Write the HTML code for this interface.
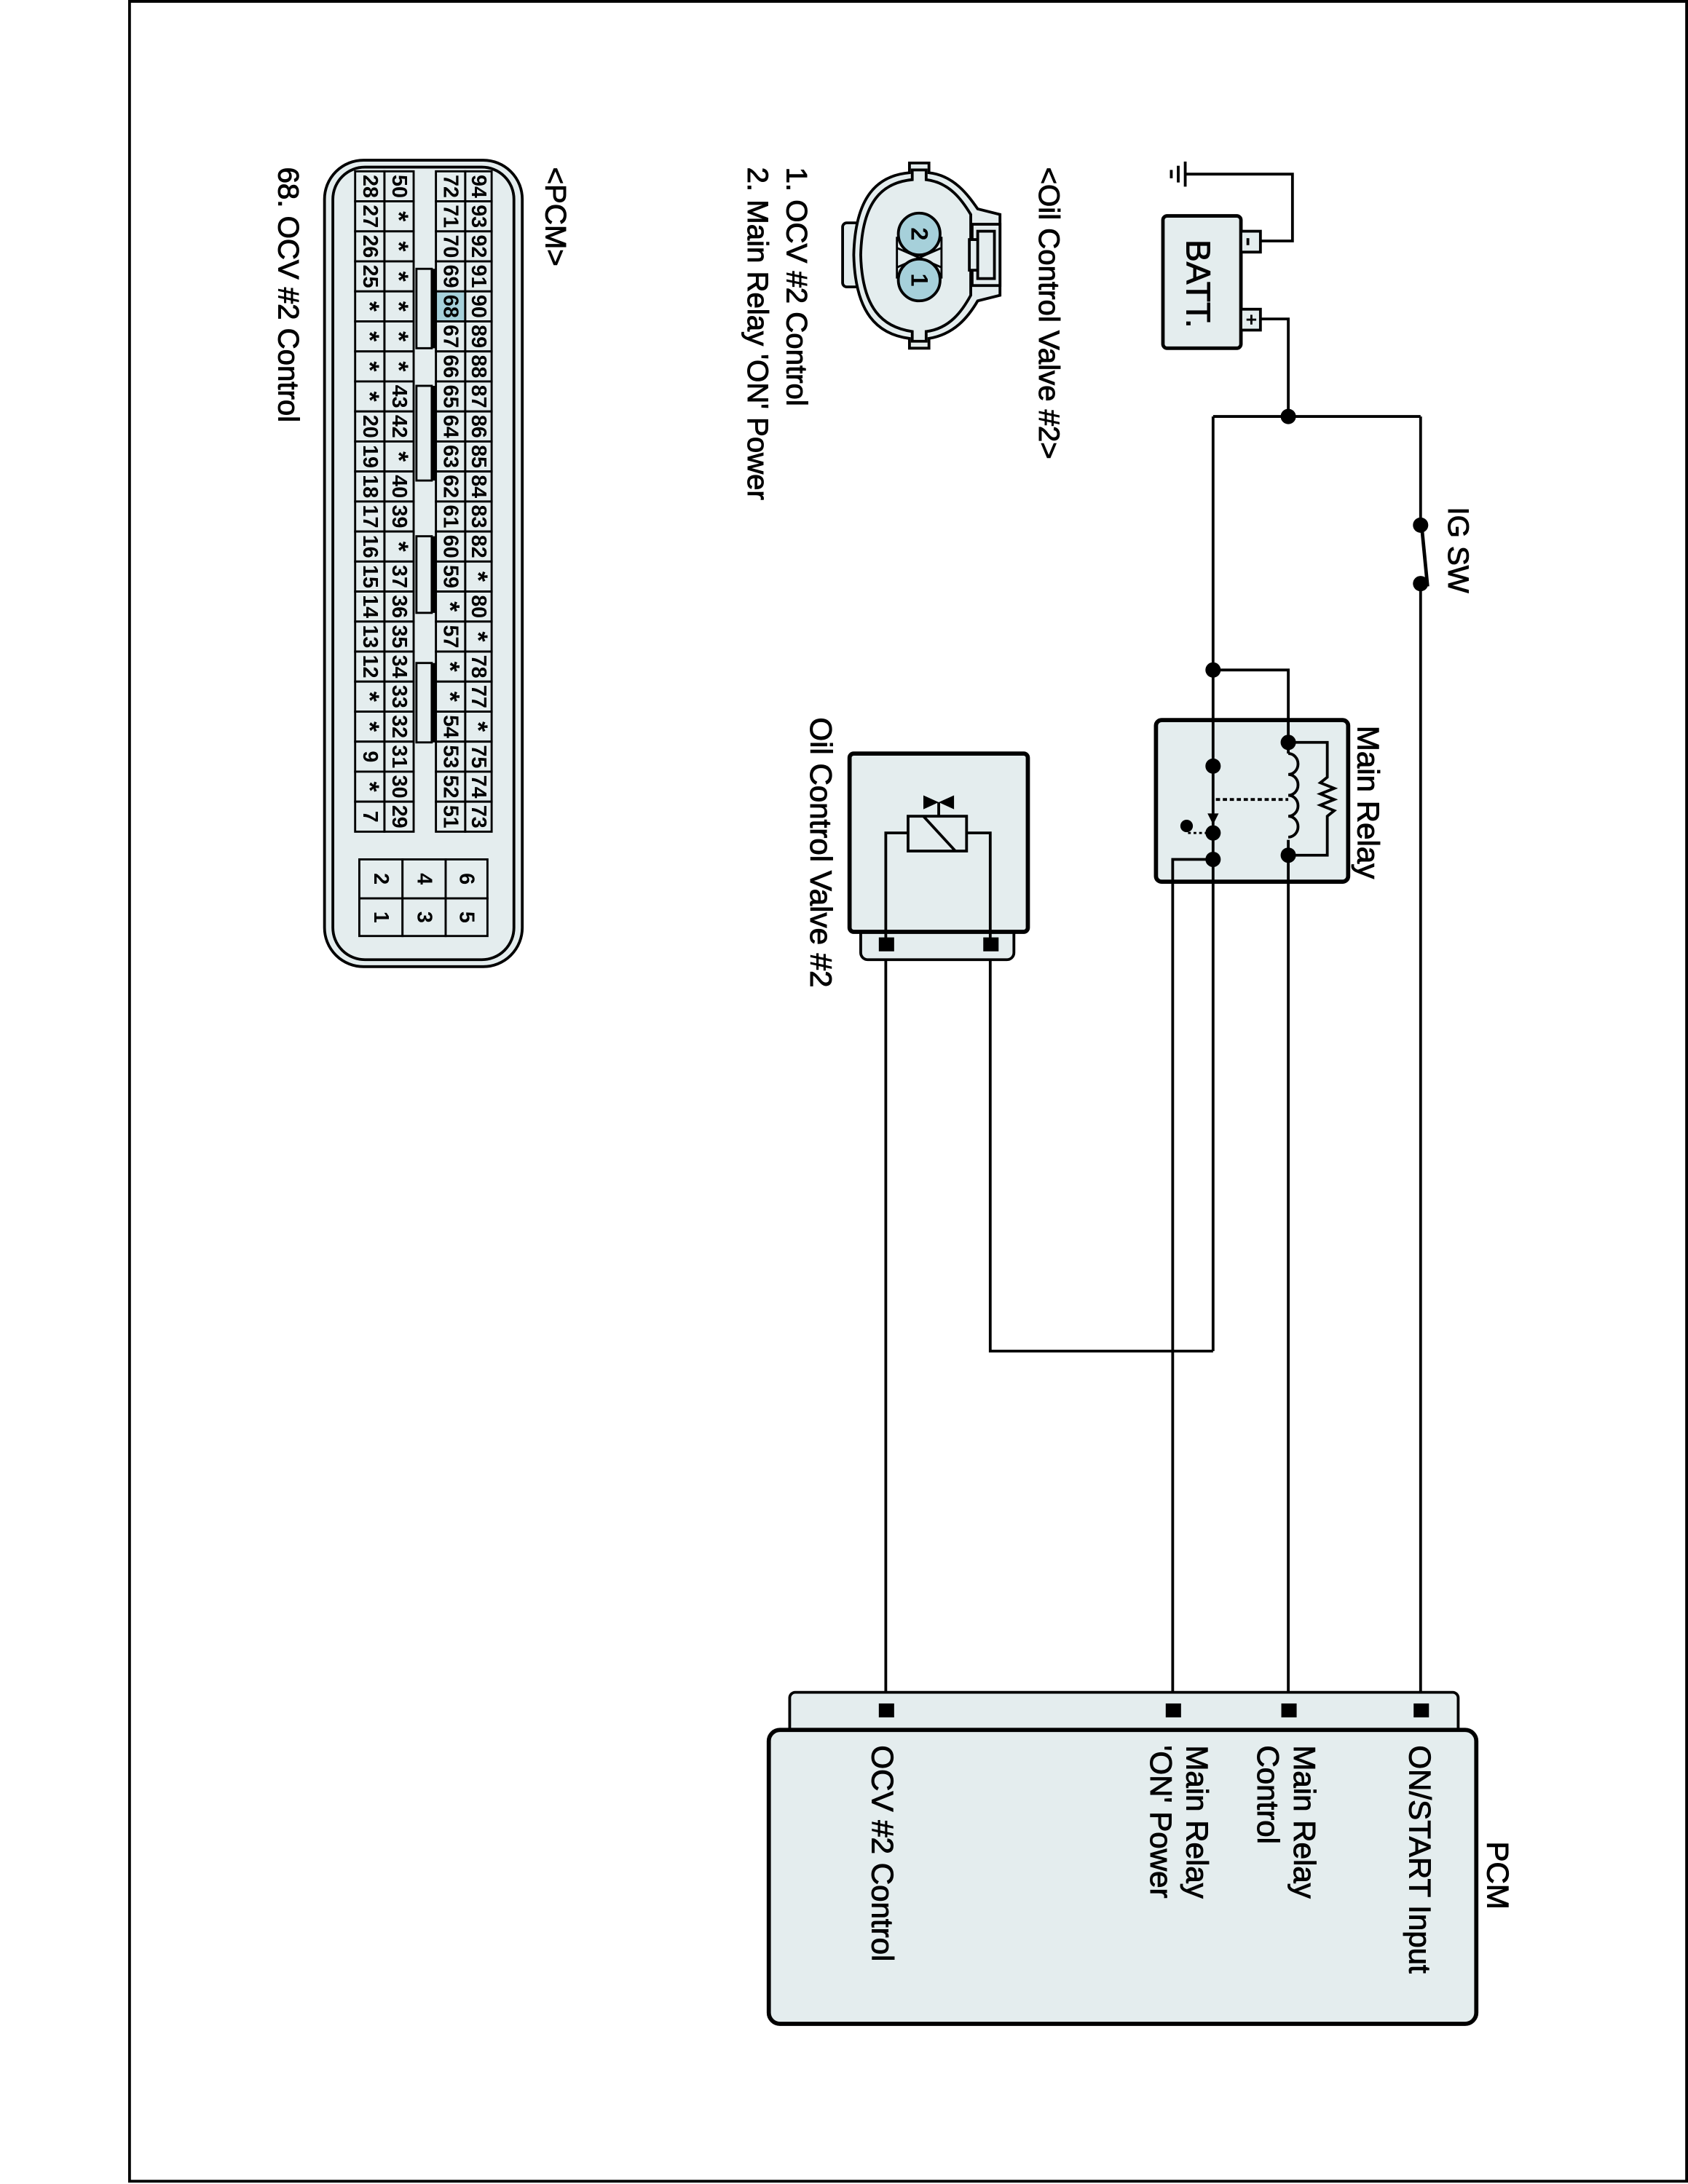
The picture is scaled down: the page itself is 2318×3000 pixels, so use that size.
<!DOCTYPE html>
<html><head><meta charset="utf-8"><style>
html,body{margin:0;padding:0;background:#fff;}
svg{display:block;}
text{font-family:"Liberation Sans",Arial,sans-serif;fill:#000;}
.t{stroke:#000;stroke-width:0.5;}
</style></head><body>
<svg id="s" width="2318" height="3000" viewBox="0 0 1212 1568" preserveAspectRatio="none" xmlns="http://www.w3.org/2000/svg">
<rect x="93" y="1" width="1118" height="1565" fill="#fff" stroke="#000" stroke-width="2"/>

<g stroke="#000" stroke-width="2" fill="none">
<line x1="851" y1="116" x2="851" y2="134"/>
<line x1="846" y1="119" x2="846" y2="131"/>
<line x1="841" y1="122" x2="841" y2="128"/>
<polyline points="851,125 928,125 928,173 905,173"/>
<polyline points="905,229 925,229 925,299"/>
<line x1="871" y1="299" x2="1020" y2="299"/>
<line x1="1020" y1="299" x2="1020" y2="1228"/>
<line x1="871" y1="299" x2="871" y2="970"/>
<polyline points="871,970 711,970 711,681"/>
<polyline points="871,481 925,481 925,1228"/>
<line x1="842" y1="617" x2="842" y2="1228"/>
<line x1="636" y1="681" x2="636" y2="1228"/>
</g>
<rect x="835" y="155" width="56" height="95" rx="3" fill="#e4edee" stroke="#000" stroke-width="2.5"/>
<rect x="891" y="166" width="14" height="15" fill="#e4edee" stroke="#000" stroke-width="2"/>
<rect x="891" y="222" width="14" height="15" fill="#e4edee" stroke="#000" stroke-width="2"/>
<line x1="896" y1="171" x2="896" y2="176" stroke="#000" stroke-width="2"/>
<line x1="895" y1="229.5" x2="902" y2="229.5" stroke="#000" stroke-width="1.5"/>
<line x1="898.5" y1="226" x2="898.5" y2="233" stroke="#000" stroke-width="1.5"/>
<text class="t" transform="translate(852,172) rotate(90)" font-size="24">BATT.</text>

<g fill="#000">
<circle cx="925" cy="299" r="5.5"/>
<circle cx="871" cy="481" r="5.5"/>
</g>
<rect x="1014" y="380" width="12" height="36" fill="#fff"/>
<line x1="1021" y1="380" x2="1025" y2="421" stroke="#000" stroke-width="2.5"/>
<circle cx="1020" cy="377" r="5.5"/>
<circle cx="1020" cy="419" r="5.5"/>
<text class="t" transform="translate(1040,364) rotate(90)" font-size="21">IG SW</text>

<rect x="830" y="517" width="138" height="116" rx="4" fill="#e4edee" stroke="#000" stroke-width="3"/>
<g stroke="#000" stroke-width="2" fill="none">
<line x1="871" y1="517" x2="871" y2="633"/>
<line x1="925" y1="517" x2="925" y2="633"/>
<polyline points="871,617 842,617 842,633"/>
<polyline points="925,533 953,533 953,558 948,562 958,566 948,570 958,574 948,578 958,582 953,586 953,614 925,614"/>
</g>
<rect x="920" y="541" width="10" height="62" fill="#e4edee"/>
<path d="M925,541 a7,7.5 0 0 1 0,15 a7,7.5 0 0 1 0,15 a7,7.5 0 0 1 0,15 a7,7.5 0 0 1 0,15" fill="none" stroke="#000" stroke-width="2"/>
<line x1="873" y1="574" x2="925" y2="574" stroke="#000" stroke-width="2" stroke-dasharray="3,2"/>
<line x1="853" y1="598" x2="871" y2="598" stroke="#000" stroke-width="1.5" stroke-dasharray="2,2"/>
<polygon points="867,584 875,584 871,592" fill="#000"/>
<g fill="#000">
<circle cx="925" cy="533" r="5.5"/>
<circle cx="925" cy="614" r="5.5"/>
<circle cx="871" cy="550" r="5.5"/>
<circle cx="871" cy="598" r="5.5"/>
<circle cx="871" cy="617" r="5.5"/>
<circle cx="852" cy="593" r="4.5"/>
</g>
<text class="t" transform="translate(975,521) rotate(90)" font-size="22">Main Relay</text>

<rect x="618" y="664" width="110" height="25" rx="5" fill="#e4edee" stroke="#000" stroke-width="2"/>
<rect x="610" y="541" width="128" height="128" rx="3" fill="#e4edee" stroke="#000" stroke-width="3"/>
<rect x="631" y="673" width="11" height="10" fill="#000"/>
<rect x="706" y="673" width="11" height="10" fill="#000"/>
<g stroke="#000" stroke-width="2" fill="none">
<polyline points="652,598 636,598 636,681"/>
<polyline points="694,598 711,598 711,681"/>
<rect x="652" y="586" width="42" height="25"/>
<line x1="663" y1="586" x2="686" y2="611"/>
<line x1="674" y1="576" x2="674" y2="586"/>
</g>
<polygon points="663,571 674,576 685,571 685,581 674,576 663,581" fill="#000"/>
<text class="t" transform="translate(582,515) rotate(90)" font-size="22">Oil Control Valve #2</text>

<rect x="567" y="1215" width="480" height="40" rx="4" fill="#e4edee" stroke="#000" stroke-width="2"/>
<rect x="552" y="1242" width="508" height="211" rx="8" fill="#e4edee" stroke="#000" stroke-width="3"/>
<g fill="#000">
<rect x="631" y="1223" width="11" height="10"/>
<rect x="837" y="1223" width="11" height="10"/>
<rect x="920" y="1223" width="11" height="10"/>
<rect x="1015" y="1223" width="11" height="10"/>
</g>
<text class="t" transform="translate(1068,1322) rotate(90)" font-size="22">PCM</text>
<text class="t" transform="translate(1012,1253) rotate(90)" font-size="22">ON/START Input</text>
<text class="t" transform="translate(929,1253) rotate(90)" font-size="22">Main Relay</text>
<text class="t" transform="translate(903,1253) rotate(90)" font-size="22">Control</text>
<text class="t" transform="translate(852,1253) rotate(90)" font-size="22">Main Relay</text>
<text class="t" transform="translate(826,1253) rotate(90)" font-size="22">'ON' Power</text>
<text class="t" transform="translate(626,1253) rotate(90)" font-size="22">OCV #2 Control</text>

<text class="t" transform="translate(746,120) rotate(90)" font-size="21">&lt;Oil Control Valve #2&gt;</text>
<text class="t" transform="translate(565,120) rotate(90)" font-size="21">1. OCV #2 Control</text>
<text class="t" transform="translate(537,120) rotate(90)" font-size="21">2. Main Relay 'ON' Power</text>
<text class="t" transform="translate(392,120) rotate(90)" font-size="21">&lt;PCM&gt;</text>
<text class="t" transform="translate(200,120) rotate(90)" font-size="21">68. OCV #2 Control</text>

<g stroke="#000" stroke-width="2" fill="#e4edee">
<rect x="605" y="160" width="12" height="46" rx="3"/>
<path d="M653,117 L667,117 L667,124 C685,126 695,140 702,150 L718,154 L718,212 L702,216 C695,228 685,240 667,243 L667,250 L653,250 L653,243 C630,240 614,225 613,183 C614,141 630,126 653,124 Z"/>
<path d="M655,122 L665,122 L665,129 C682,131 691,144 697,154 L697,212 C691,223 682,236 665,238 L665,245 L655,245 L655,238 C634,235 619,222 618,183 C619,144 634,131 655,129 Z" fill="none"/>
<rect x="698" y="161" width="20" height="44"/>
<rect x="702" y="166" width="12" height="34"/>
<rect x="696" y="172" width="6" height="22"/>
</g>
<path d="M644,170 L644,200 M676,170 L676,200 M644,178 L676,192 M676,178 L644,192" stroke="#000" stroke-width="1.5" fill="none"/>
<circle cx="660" cy="168" r="15" fill="#a6d0da" stroke="#000" stroke-width="2"/>
<circle cx="660" cy="201" r="15" fill="#a6d0da" stroke="#000" stroke-width="2"/>
<text transform="translate(660,168) rotate(90)" font-size="17" font-weight="bold" text-anchor="middle" dominant-baseline="central">2</text>
<text transform="translate(660,201) rotate(90)" font-size="17" font-weight="bold" text-anchor="middle" dominant-baseline="central">1</text>

<rect x="233" y="115" width="142" height="579" rx="28" fill="#e4edee" stroke="#000" stroke-width="2"/>
<rect x="239" y="120" width="130" height="569" rx="23" fill="none" stroke="#000" stroke-width="2"/>
<g id="grid"></g>
</svg>
<script>
(function(){
var g=document.getElementById('grid'),NS='http://www.w3.org/2000/svg';
function el(n,a,t){var e=document.createElementNS(NS,n);for(var k in a)e.setAttribute(k,a[k]);if(t!=null)e.textContent=t;g.appendChild(e);return e;}
var cols=[
 {x:334,w:19,d:['94','93','92','91','90','89','88','87','86','85','84','83','82','*','80','*','78','77','*','75','74','73']},
 {x:313,w:21,d:['72','71','70','69','68','67','66','65','64','63','62','61','60','59','*','57','*','*','54','53','52','51']},
 {x:276,w:21,d:['50','*','*','*','*','*','*','43','42','*','40','39','*','37','36','35','34','33','32','31','30','29']},
 {x:255,w:21,d:['28','27','26','25','*','*','*','*','20','19','18','17','16','15','14','13','12','*','*','9','*','7']}];
var y0=123,p=21.55;
cols.forEach(function(c){c.d.forEach(function(t,i){
 var y=y0+i*p;
 el('rect',{x:c.x,y:y,width:c.w,height:p,fill:(t=='68'?'#a6d0da':'#e4edee'),stroke:'#000','stroke-width':1.5});
 el('text',{transform:'translate('+(c.x+c.w/2)+','+(y+p/2)+') rotate(90)','font-size':(t=='*'?19:15),'font-weight':'bold','text-anchor':'middle','dominant-baseline':'central'},t);
});});
[[193,250],[277,345],[385,440],[476,533]].forEach(function(s){
 el('rect',{x:299,y:s[0],width:11,height:s[1]-s[0],fill:'#e4edee',stroke:'#000','stroke-width':1.5});
 el('line',{x1:311.5,y1:s[0],x2:311.5,y2:s[1],stroke:'#000','stroke-width':3});
});
var xs=[258,289,320,350],ys=[617,645,672],lab=[['2','1'],['4','3'],['6','5']];
for(var i=0;i<3;i++)for(var j=0;j<2;j++){
 el('rect',{x:xs[i],y:ys[j],width:xs[i+1]-xs[i],height:ys[j+1]-ys[j],fill:'#e4edee',stroke:'#000','stroke-width':1.5});
 el('text',{transform:'translate('+((xs[i]+xs[i+1])/2)+','+((ys[j]+ys[j+1])/2)+') rotate(90)','font-size':15,'font-weight':'bold','text-anchor':'middle','dominant-baseline':'central'},lab[i][j]);
}
})();
</script>
</body></html>
